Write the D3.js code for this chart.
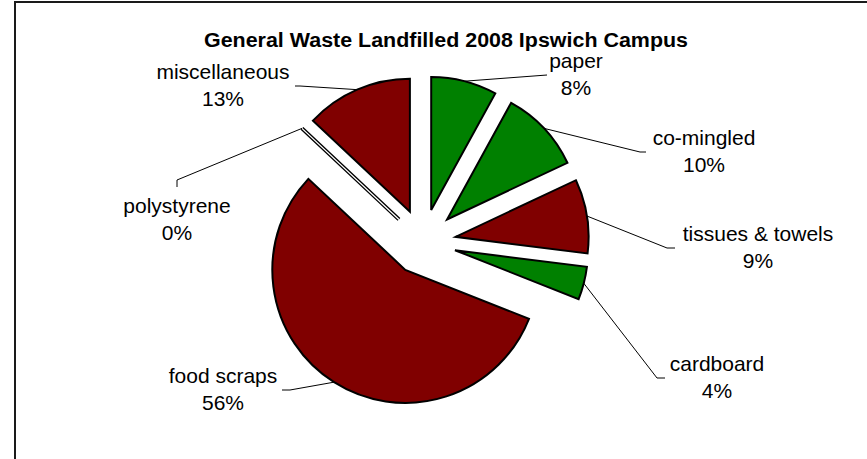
<!DOCTYPE html>
<html>
<head>
<meta charset="utf-8">
<script src="https://cdn.jsdelivr.net/npm/d3@7"></script>
<style>
  html, body { margin: 0; padding: 0; background: #fff; }
  svg { display: block; }
  text { font-family: "Liberation Sans", Arial, sans-serif; fill: #000; }
</style>
</head>
<body>
<script>
// ---- data ----
const title = "General Waste Landfilled 2008 Ipswich Campus";
const categories = ["paper", "co-mingled", "tissues & towels", "cardboard", "food scraps", "polystyrene", "miscellaneous"];
const values = [8, 10, 9, 4, 56, 0, 13];
const groups = ["recycle", "recycle", "landfill", "recycle", "landfill", "landfill", "landfill"];

// ---- layout ----
const W = 867, H = 459;
const cx = 423, cy = 242, R = 133, explode = 33;
const colorScale = d3.scaleOrdinal().domain(["recycle", "landfill"]).range(["#008000", "#800000"]);
const labelLayout = {
  "paper":            { x: 576, y: 68,  leader: [[547, 75]] },
  "co-mingled":       { x: 704, y: 145, leader: [[640, 152], [646, 152]] },
  "tissues & towels": { x: 758, y: 241, leader: [[667, 248], [675, 248]] },
  "cardboard":        { x: 717, y: 371, leader: [[657, 378], [665, 378]] },
  "food scraps":      { x: 223, y: 383, leader: [[290, 390], [282, 390]] },
  "polystyrene":      { x: 177, y: 213, leader: [[177, 180], [177, 187]] },
  "miscellaneous":    { x: 223, y: 79,  leader: [[300, 86], [295, 86]] }
};

const svg = d3.select("body").append("svg").attr("width", W).attr("height", H);
svg.append("rect").attr("width", W).attr("height", H).attr("fill", "#fff");

// chart area border
svg.append("path")
  .attr("d", `M15,${H + 2} V2 H${W + 2}`)
  .attr("fill", "none").attr("stroke", "#1a1a1a").attr("stroke-width", 2);

svg.append("text")
  .attr("x", 446).attr("y", 47)
  .attr("text-anchor", "middle")
  .attr("font-weight", "bold")
  .attr("font-size", 20)
  .attr("textLength", 484).attr("lengthAdjust", "spacingAndGlyphs")
  .text(title);

const data = categories.map((c, i) => ({ name: c, value: values[i], group: groups[i] }));
const total = d3.sum(values);
const pie = d3.pie().sort(null).value(d => d.value).startAngle(0).endAngle(2 * Math.PI);
const arcs = pie(data);
const arc = d3.arc().innerRadius(0).outerRadius(R);
const pct = d3.format(".0%");

const g = svg.append("g").attr("transform", `translate(${cx},${cy})`);

function offset(d) {
  const m = (d.startAngle + d.endAngle) / 2;
  return [explode * Math.sin(m), -explode * Math.cos(m)];
}

const slices = g.selectAll("g.slice").data(arcs).join("g")
  .attr("class", "slice")
  .attr("transform", d => { const o = offset(d); return `translate(${o[0]},${o[1]})`; });

slices.append("path")
  .attr("d", arc)
  .attr("fill", d => colorScale(d.data.group))
  .attr("stroke", "#000")
  .attr("stroke-width", d => d.data.value === 0 ? 4 : 2)
  .attr("stroke-linejoin", "miter");

// zero slice drawn as a hollow sliver
slices.filter(d => d.data.value === 0).append("path")
  .attr("d", arc)
  .attr("fill", "none")
  .attr("stroke", "#fff")
  .attr("stroke-width", 1.3);

// leader lines
const line = d3.line();
arcs.forEach(d => {
  const o = offset(d);
  const m = (d.startAngle + d.endAngle) / 2;
  const start = [cx + o[0] + R * Math.sin(m), cy + o[1] - R * Math.cos(m)];
  const L = labelLayout[d.data.name];
  svg.append("path")
    .attr("d", line([start, ...L.leader]))
    .attr("fill", "none").attr("stroke", "#000").attr("stroke-width", 1);
});

// labels
arcs.forEach(d => {
  const L = labelLayout[d.data.name];
  const t = svg.append("text")
    .attr("x", L.x).attr("y", L.y)
    .attr("text-anchor", "middle")
    .attr("font-size", 21);
  t.append("tspan").attr("x", L.x).attr("y", L.y).text(d.data.name);
  t.append("tspan").attr("x", L.x).attr("y", L.y + 27).text(pct(d.data.value / total));
});
</script>
</body>
</html>
